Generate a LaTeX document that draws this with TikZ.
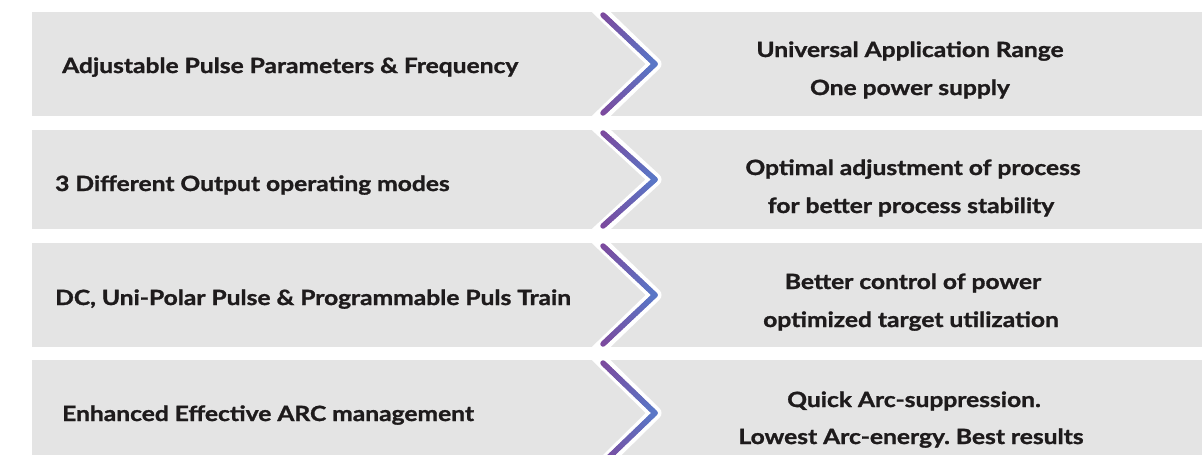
\documentclass[tikz,border=0pt]{standalone}
\usepackage{fontspec}
\setmainfont{Lato}[BoldFeatures={FakeStretch=1.17,FakeBold=1.3}]
\usetikzlibrary{calc}
\frenchspacing
\definecolor{bandgrey}{HTML}{E4E4E4}
\definecolor{txt}{HTML}{1E1B1C}
\definecolor{chpurple}{HTML}{7C4A9E}
\definecolor{chblue}{HTML}{5A76C6}
\tikzset{
  band/.style={fill=bandgrey, draw=none},
  lbl/.style={font=\fontsize{21}{25}\selectfont\bfseries, text=txt, inner sep=0pt},
  halo/.style={draw=white, line width=13pt, line cap=round, line join=round},
}
\newcommand{\chevron}[2]{% #1 = top y, #2 = bottom y
  \coordinate (ca) at (603,#1+3);
  \coordinate (cb) at (655,{(#1+#2)/2});
  \coordinate (cc) at (603,#2-3);
  \draw[halo] (597,#1-4) -- (cb) -- (597,#2+4);
  \foreach \i in {0,...,23}{
    \pgfmathsetmacro{\ta}{\i/24}
    \pgfmathsetmacro{\tb}{(\i+1)/24}
    \pgfmathsetmacro{\pc}{100*\i/23}
    \draw[line width=5.5pt, line cap=round, draw=chblue!\pc!chpurple]
      ($(ca)!\ta!(cb)$) -- ($(ca)!\tb!(cb)$);
    \draw[line width=5.5pt, line cap=round, draw=chblue!\pc!chpurple]
      ($(cc)!\ta!(cb)$) -- ($(cc)!\tb!(cb)$);
  }
}
\begin{document}
\begin{tikzpicture}[x=1pt,y=-1pt]
\useasboundingbox (0,0) rectangle (1202,455);
\clip (0,0) rectangle (1202,455);
% bands
\fill[band] (32,12) rectangle (1202,116);
\fill[band] (32,130) rectangle (1202,229);
\fill[band] (32,243) rectangle (1202,347);
\fill[band] (32,360) rectangle (1202,466);
% chevrons
\chevron{12}{116}
\chevron{130}{229}
\chevron{243}{347}
\chevron{360}{466}
% left labels
\node[lbl, anchor=base west] (l1) at (62,73) {Adjustable Pulse Parameters \& Frequency};
\node[lbl, anchor=base west] (l2) at (55,191) {3 Different Output operating modes};
\node[lbl, anchor=base west] (l3) at (55,305) {DC, Uni-Polar Pulse \& Programmable Puls Train};
\node[lbl, anchor=base west] (l4) at (62,421) {Enhanced Effective ARC management};
% right labels
\node[lbl, anchor=base] (r1a) at (910,57) {Universal Application Range};
\node[lbl, anchor=base] (r1b) at (910,95) {One power supply};
\node[lbl, anchor=base] (r2a) at (913,175) {Optimal adjustment of process};
\node[lbl, anchor=base] (r2b) at (911,213) {for better process stability};
\node[lbl, anchor=base] (r3a) at (913,289) {Better control of power};
\node[lbl, anchor=base] (r3b) at (911,327) {optimized target utilization};
\node[lbl, anchor=base] (r4a) at (914,407) {Quick Arc-suppression.};
\node[lbl, anchor=base] (r4b) at (911,444) {Lowest Arc-energy. Best results};
\end{tikzpicture}
\end{document}
